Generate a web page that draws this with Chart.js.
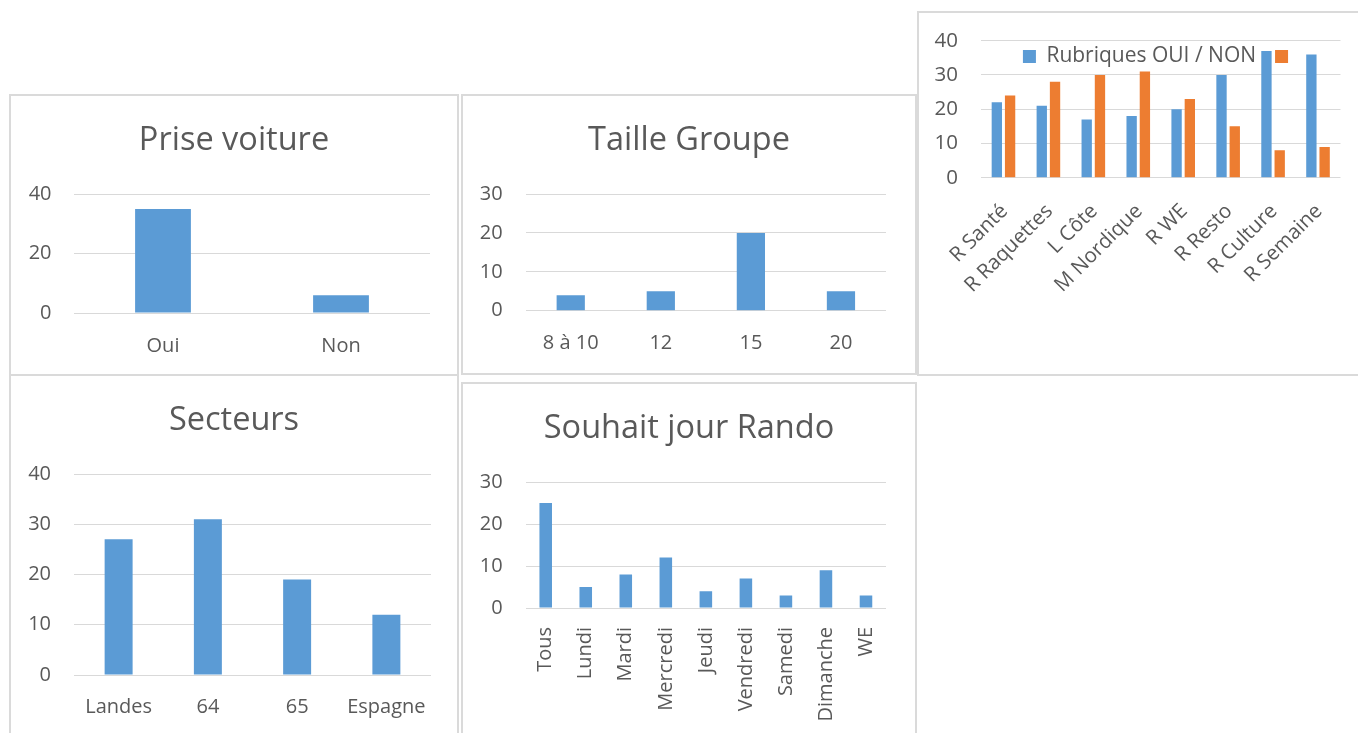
<!DOCTYPE html>
<html>
<head>
<meta charset="utf-8">
<script src="https://cdn.jsdelivr.net/npm/chart.js@4.4.1/dist/chart.umd.min.js"></script>
<style>
  html, body { margin: 0; padding: 0; background: #ffffff; width: 1358px; height: 733px; overflow: hidden; }
  .box { position: absolute; box-sizing: border-box; border: 2px solid #dadada; background: #fff; }
  .chart { position: absolute; }
  .chart canvas { display: block; }
</style>
</head>
<body>
<div class="box" style="left:9px;top:94px;width:450px;height:282px"></div>
<div class="box" style="left:461px;top:94px;width:456px;height:281px"></div>
<div class="box" style="left:917px;top:11px;width:460px;height:365px"></div>
<div class="box" style="left:9px;top:374px;width:450px;height:380px"></div>
<div class="box" style="left:461px;top:382px;width:456px;height:380px"></div>

<div class="chart" style="left:11px;top:96px;width:446px;height:278px"><canvas id="cVoiture"></canvas></div>
<div class="chart" style="left:463px;top:96px;width:452px;height:277px"><canvas id="cTaille"></canvas></div>
<div class="chart" style="left:919px;top:13px;width:439px;height:361px"><canvas id="cRubriques"></canvas></div>
<div class="chart" style="left:11px;top:376px;width:446px;height:357px"><canvas id="cSecteurs"></canvas></div>
<div class="chart" style="left:463px;top:384px;width:452px;height:349px"><canvas id="cJour"></canvas></div>

<script>
// ---------- DATA ----------
const voitureLabels = ['Oui', 'Non'];
const voitureValues = [35, 6];
const voitureTicks = [0, 20, 40];

const tailleLabels = ['8 à 10', '12', '15', '20'];
const tailleValues = [4, 5, 20, 5];
const tailleTicks = [0, 10, 20, 30];

const rubriquesLabels = ['R Santé', 'R Raquettes', 'L Côte', 'M Nordique', 'R WE', 'R Resto', 'R Culture', 'R Semaine'];
const rubriquesOui = [22, 21, 17, 18, 20, 30, 37, 36];
const rubriquesNon = [24, 28, 30, 31, 23, 15, 8, 9];
const rubriquesSeriesNames = ['Rubriques OUI / NON', ''];
const rubriquesTicks = [0, 10, 20, 30, 40];

const secteursLabels = ['Landes', '64', '65', 'Espagne'];
const secteursValues = [27, 31, 19, 12];
const secteursTicks = [0, 10, 20, 30, 40];

const jourLabels = ['Tous', 'Lundi', 'Mardi', 'Mercredi', 'Jeudi', 'Vendredi', 'Samedi', 'Dimanche', 'WE'];
const jourValues = [25, 5, 8, 12, 4, 7, 3, 9, 3];
const jourTicks = [0, 10, 20, 30];

// ---------- STYLE ----------
const BLUE = '#5B9BD5';
const ORANGE = '#ED7D31';
const TEXT = '#595959';
const GRID = '#d9d9d9';
Chart.defaults.font.family = "'Open Sans', sans-serif";
Chart.defaults.color = TEXT;

const legendShift = {
  id: 'legendShift',
  afterLayout(chart, args, opts) {
    const lg = chart.legend;
    if (!lg || opts.top === undefined) return;
    lg.top = opts.top;
    lg.height = opts.height;
    lg.bottom = opts.top + opts.height;
  }
};

function makeOptions(g) {
  const tickVals = g.ticks;
  const yMax = tickVals[tickVals.length - 1];
  const step = tickVals[1] - tickVals[0];
  const o = {
    responsive: true,
    maintainAspectRatio: false,
    animation: false,
    layout: { padding: { left: 0, right: g.title ? 0 : g.padRight, top: g.padTop || 0, bottom: 0 } },
    plugins: {
      title: g.title ? {
        display: true, text: g.title, color: TEXT,
        font: { size: 32.5, weight: 'normal', lineHeight: 1.2 },
        padding: { top: 25.5, bottom: 98 - 25.5 - 39 }
      } : { display: false },
      legend: { display: false },
      tooltip: { enabled: false }
    },
    scales: {
      x: {
        grid: { display: false, drawTicks: false },
        border: { display: false },
        afterFit: (s) => { s.height = g.xHeight; },
        ticks: {
          color: TEXT, font: { size: g.xFont || 20 }, padding: g.xPad,
          autoSkip: false, minRotation: g.rot || 0, maxRotation: g.rot || 0,
          labelOffset: g.labelOffset || 0
        }
      },
      y: {
        min: 0, max: yMax,
        grid: { color: GRID, lineWidth: 1, drawTicks: true, tickLength: g.yPad - 3, tickColor: 'rgba(0,0,0,0)' },
        border: { display: false },
        afterFit: (s) => { s.width = g.yWidth; },
        ticks: { stepSize: step, color: TEXT, font: { size: g.yFont || 20 }, padding: 3 }
      }
    }
  };
  if (g.title) {
    // empty right-hand spacer axis: keeps the plot narrower while the title stays centred on the box
    o.scales.ySpacer = {
      type: 'linear', position: 'right', display: true,
      grid: { display: false, drawTicks: false }, border: { display: false },
      ticks: { display: false },
      afterFit: (s) => { s.width = g.padRight; }
    };
  }
  return o;
}

function singleBar(id, labels, values, g) {
  return new Chart(document.getElementById(id), {
    type: 'bar',
    data: { labels: labels, datasets: [{ data: values, backgroundColor: BLUE, borderWidth: 0,
      categoryPercentage: 1, barPercentage: 0.3135 }] },
    options: makeOptions(g)
  });
}

singleBar('cVoiture', voitureLabels, voitureValues,
  { title: 'Prise voiture', ticks: voitureTicks, padRight: 27, yWidth: 63, yPad: 22.5, xHeight: 61, xPad: 21 });

singleBar('cTaille', tailleLabels, tailleValues,
  { title: 'Taille Groupe', ticks: tailleTicks, padRight: 29, yWidth: 62.7, yPad: 23, xHeight: 62.3, xPad: 20.5 });

singleBar('cSecteurs', secteursLabels, secteursValues,
  { title: 'Secteurs', ticks: secteursTicks, padRight: 26, yWidth: 63, yPad: 23, xHeight: 58, xPad: 20.5 });

singleBar('cJour', jourLabels, jourValues,
  { title: 'Souhait jour Rando', ticks: jourTicks, padRight: 29, yWidth: 62.7, yPad: 23, xHeight: 125, xPad: 19, rot: 90 });

// Rubriques chart (two series, legend inside plot area)
const rubOpts = makeOptions({ ticks: rubriquesTicks, padRight: 17, padTop: 27.7, yWidth: 62, yPad: 23,
  xHeight: 196.3, xPad: 21.5, rot: 45, labelOffset: 1, xFont: 20.5, yFont: 20.5 });
rubOpts.plugins.legend = {
  display: true, position: 'top', fullSize: false, maxHeight: 0.01,
  labels: { color: TEXT, font: { size: 21 }, boxWidth: 13, boxHeight: 13, padding: 19 }
};
rubOpts.plugins.legendShift = { top: 14, height: 60 };
new Chart(document.getElementById('cRubriques'), {
  type: 'bar',
  data: {
    labels: rubriquesLabels,
    datasets: [
      { label: rubriquesSeriesNames[0], data: rubriquesOui, backgroundColor: BLUE, borderWidth: 0, categoryPercentage: 0.59, barPercentage: 0.78 },
      { label: rubriquesSeriesNames[1], data: rubriquesNon, backgroundColor: ORANGE, borderWidth: 0, categoryPercentage: 0.59, barPercentage: 0.78 }
    ]
  },
  options: rubOpts,
  plugins: [legendShift]
});
</script>
</body>
</html>
